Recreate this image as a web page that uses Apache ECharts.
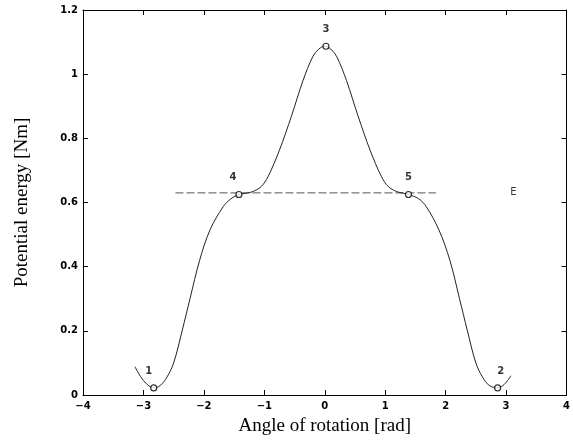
<!DOCTYPE html>
<html>
<head>
<meta charset="utf-8">
<script src="https://cdn.jsdelivr.net/npm/echarts@6/dist/echarts.min.js"></script>
<style>
  html, body { margin: 0; padding: 0; background: #fff; }
  #chart { width: 573px; height: 444px; }
</style>
</head>
<body>
<div id="chart"></div>
<script>
// Potential energy curve versus rotation angle
const angle = [-3.14, -3.05, -2.95, -2.83, -2.72, -2.61, -2.5, -2.36, -2.23, -2.07, -1.9, -1.68, -1.55, -1.42, -1.3, -1.19, -1.05, -0.94, -0.75, -0.55, -0.36, -0.2, -0.1, 0,
               0.1, 0.2, 0.36, 0.55, 0.75, 0.94, 1.05, 1.19, 1.3, 1.385, 1.55, 1.68, 1.89, 2.07, 2.23, 2.36, 2.5, 2.61, 2.72, 2.86, 2.97, 3.08];
const energy = [0.088, 0.058, 0.035, 0.022, 0.03, 0.056, 0.10, 0.20, 0.30, 0.42, 0.514, 0.587, 0.612, 0.625, 0.629, 0.634, 0.65, 0.68, 0.763, 0.87, 0.98, 1.054, 1.078, 1.087,
                1.078, 1.054, 0.98, 0.87, 0.763, 0.68, 0.65, 0.634, 0.629, 0.625, 0.612, 0.587, 0.514, 0.42, 0.30, 0.20, 0.10, 0.056, 0.03, 0.022, 0.033, 0.06];

// Equilibrium points
const pointNames = ['1', '2', '3', '4', '5'];
const pointAngle = [-2.83, 2.86, 0.02, -1.42, 1.385];
const pointEnergy = [0.022, 0.022, 1.087, 0.625, 0.625];

// Energy level E
const levelAngle = [-2.47, 1.84];
const levelEnergy = 0.63;
const levelName = 'E';
const levelNameAngle = 3.12;

const xTicks = { min: -4, max: 4, interval: 1 };
const yTicks = { min: 0, max: 1.2, interval: 0.2 };

const tickFont = { fontFamily: 'DejaVu Sans', fontSize: 10, fontWeight: 'bold', color: '#000' };
const titleFont = { fontFamily: 'Liberation Serif', fontSize: 19, color: '#000' };
const fmt = v => (v < 0 ? '\u2212' + Math.abs(+v.toFixed(1)) : String(+v.toFixed(1)));

const labelOffsets = [[-5, 0], [3, 0], [0, 0], [-6, 0], [0, 0]];

const chart = echarts.init(document.getElementById('chart'), null, { renderer: 'canvas' });
chart.setOption({
  animation: false,
  backgroundColor: '#fff',
  grid: { left: 83, right: 5, top: 10, bottom: 49, containLabel: false },
  xAxis: [
    {
      type: 'value', ...xTicks, position: 'bottom',
      name: 'Angle of rotation [rad]', nameLocation: 'middle', nameGap: 22,
      nameTextStyle: titleFont,
      axisLine: { onZero: false, lineStyle: { color: '#000', width: 1 } },
      axisTick: { inside: true, length: 5, lineStyle: { color: '#000' } },
      axisLabel: { ...tickFont, margin: 6, formatter: fmt },
      splitLine: { show: false }
    },
    {
      type: 'value', ...xTicks, position: 'top',
      axisLine: { onZero: false, lineStyle: { color: '#000', width: 1 } },
      axisTick: { inside: true, length: 5, lineStyle: { color: '#000' } },
      axisLabel: { show: false },
      splitLine: { show: false }
    }
  ],
  yAxis: [
    {
      type: 'value', ...yTicks, position: 'left',
      name: 'Potential energy [Nm]', nameLocation: 'middle', nameGap: 51,
      nameTextStyle: titleFont,
      axisLine: { onZero: false, lineStyle: { color: '#000', width: 1 } },
      axisTick: { inside: true, length: 5, lineStyle: { color: '#000' } },
      axisLabel: { ...tickFont, margin: 5, formatter: fmt },
      splitLine: { show: false }
    },
    {
      type: 'value', ...yTicks, position: 'right',
      axisLine: { onZero: false, lineStyle: { color: '#000', width: 1 } },
      axisTick: { inside: true, length: 5, lineStyle: { color: '#000' } },
      axisLabel: { show: false },
      splitLine: { show: false }
    }
  ],
  series: [
    {
      type: 'line',
      data: angle.map((a, i) => [a, energy[i]]),
      smooth: 0.35,
      symbol: 'none',
      lineStyle: { color: '#222', width: 1 },
      z: 3
    },
    {
      type: 'line',
      data: levelAngle.map(a => [a, levelEnergy]),
      symbol: 'none',
      lineStyle: { color: '#555', width: 1, type: [8, 3] },
      z: 2
    },
    {
      type: 'scatter',
      data: pointAngle.map((a, i) => ({
        value: [a, pointEnergy[i]],
        label: { offset: labelOffsets[i] }
      })),
      symbol: 'circle',
      symbolSize: 6,
      itemStyle: { color: '#fff', borderColor: '#000', borderWidth: 1.2 },
      label: {
        show: true, position: 'top', distance: 8,
        formatter: p => pointNames[p.dataIndex],
        fontFamily: 'DejaVu Sans', fontSize: 10, fontWeight: 'bold', color: '#000'
      },
      z: 4
    },
    {
      type: 'scatter',
      data: [[levelNameAngle, levelEnergy]],
      symbol: 'circle',
      symbolSize: 2,
      itemStyle: { color: 'rgba(0,0,0,0)' },
      label: {
        show: true, position: 'inside',
        formatter: () => levelName,
        fontFamily: 'DejaVu Sans', fontSize: 10, color: '#000'
      },
      z: 4
    }
  ]
});
</script>
</body>
</html>
